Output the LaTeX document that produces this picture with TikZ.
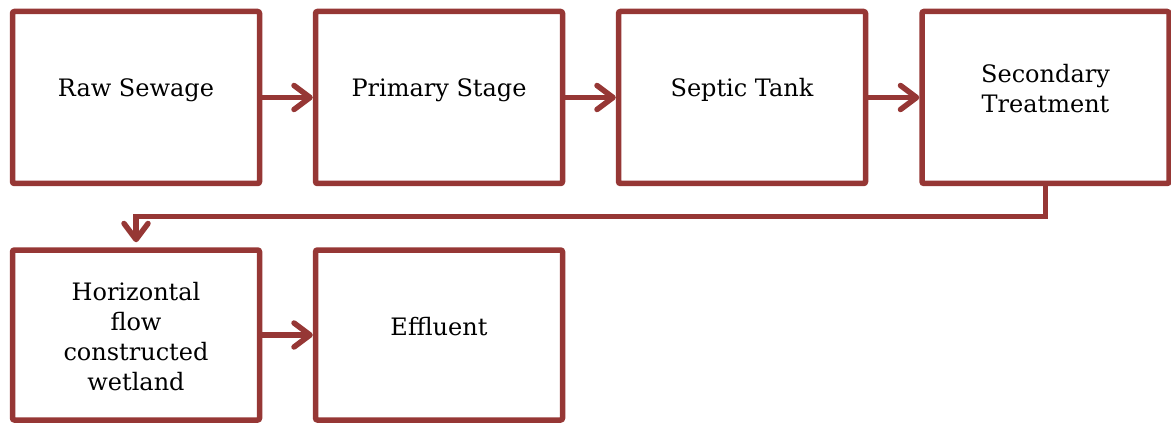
\documentclass[tikz,border=0pt]{standalone}
\usepackage{fontspec}
\setmainfont{DejaVu Serif}
\usetikzlibrary{arrows.meta}
\definecolor{boxred}{RGB}{150,55,53}
\begin{document}
\begin{tikzpicture}[x=1pt,y=-1pt,
  stagebox/.style={draw=boxred, line width=5.5pt, rounded corners=2pt, minimum width=247pt, minimum height=172pt, inner sep=0pt},
  txt/.style={align=center, font=\fontsize{24}{30}\selectfont, text=black, inner sep=0pt},
  flow/.style={draw=boxred, line width=5.5pt, line cap=round, -{Straight Barb[length=16pt,width=24pt,line cap=round,line join=round]}}]
\useasboundingbox (0,0) rectangle (1171,425);
\node[stagebox] (raw) at (136,97.5) {};
\node[stagebox] (prim) at (439,97.5) {};
\node[stagebox] (sept) at (742,97.5) {};
\node[stagebox] (sec) at (1045.5,97.5) {};
\node[stagebox, minimum height=170pt] (hfw) at (136,335) {};
\node[stagebox, minimum height=170pt] (eff) at (439,335) {};
\node[txt, yshift=6.9pt] (raw-t) at (raw) {Raw Sewage};
\node[txt, yshift=6.9pt] (prim-t) at (prim) {Primary Stage};
\node[txt, yshift=7.2pt] (sept-t) at (sept) {Septic Tank};
\node[txt, yshift=9pt] (sec-t) at (sec) {Secondary\\Treatment};
\node[txt, yshift=-1.7pt] (hfw-t) at (hfw) {Horizontal\\flow\\constructed\\wetland};
\node[txt, yshift=8.6pt] (eff-t) at (eff) {Effluent};
\draw[flow] (raw) -- (prim);
\draw[flow] (prim) -- (sept);
\draw[flow] (sept) -- (sec);
\draw[flow, line cap=butt] (sec.south) -- ++(0,30.5) -| ([yshift=5pt]hfw.north);
\draw[flow] (hfw) -- (eff);
\end{tikzpicture}
\end{document}
